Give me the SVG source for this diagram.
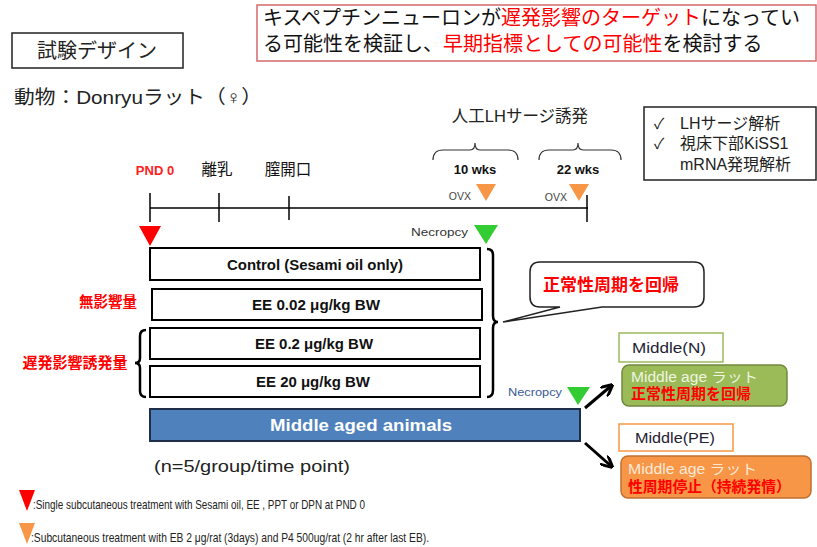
<svg xmlns="http://www.w3.org/2000/svg" width="817" height="547" viewBox="0 0 817 547">
<style>
.jp{font-family:"Liberation Sans","Noto Sans CJK JP",sans-serif;}
.cal{font-family:"Liberation Sans","Noto Sans CJK JP",sans-serif;}
.red{fill:#ff0000;}
.box{fill:#fff;stroke:#000;stroke-width:2;}
.ln{stroke:#000;stroke-width:1.5;fill:none;}
.brace{stroke:#000;stroke-width:2.5;fill:none;}
.thin{stroke:#333;stroke-width:1.2;fill:none;}
.grp{font-size:14px;font-weight:bold;fill:#111;text-anchor:middle;}
</style>
<defs>
<marker id="ah" viewBox="0 0 10 10" refX="8" refY="5" markerWidth="4" markerHeight="4" orient="auto">
<path d="M0,0 L10,5 L0,10" fill="none" stroke="#000" stroke-width="2.5"/>
</marker>
</defs>
<g id="title">
<rect x="12" y="33" width="171" height="35" fill="#fff" stroke="#222" stroke-width="1.5"/>
<text class="jp" x="97" y="58" font-size="20" text-anchor="middle" fill="#222">試験デザイン</text>
</g>
<g id="aim">
<rect x="257" y="5" width="559" height="56" fill="#fff" stroke="#d46a6a" stroke-width="1.5"/>
<text class="jp" x="263" y="25" font-size="20" fill="#111">キスペプチンニューロンが<tspan class="red">遅発影響のターゲット</tspan>になってい</text>
<text class="jp" x="263" y="51" font-size="20" fill="#111">る可能性を検証し、<tspan class="red">早期指標としての可能性</tspan>を検討する</text>
</g>
<text class="jp" x="14" y="104" font-size="19" fill="#222" textLength="248" lengthAdjust="spacingAndGlyphs">動物：Donryuラット（♀）</text>
<g id="lhsurge">
<text class="jp" x="520" y="122" font-size="16.5" text-anchor="middle" fill="#222">人工LHサージ誘発</text>
<path class="thin" d="M433,160 Q433,150 443,150 L470,150 Q475,150 475,143 Q475,150 480,150 L508,150 Q518,150 518,160"/>
<path class="thin" d="M539,160 Q539,150 549,150 L573,150 Q578,150 578,143 Q578,150 583,150 L611,150 Q621,150 621,160"/>
<text class="cal" x="475" y="174" font-size="13" font-weight="bold" text-anchor="middle" fill="#111">10 wks</text>
<text class="cal" x="578" y="174" font-size="13" font-weight="bold" text-anchor="middle" fill="#111">22 wks</text>
</g>
<g id="analysis">
<rect x="644" y="107" width="172" height="73" fill="#fff" stroke="#222" stroke-width="1.5"/>
<text class="jp" x="654" y="129" font-size="15" fill="#222">✓</text>
<text class="jp" x="680" y="129" font-size="16" fill="#222">LHサージ解析</text>
<text class="jp" x="654" y="149" font-size="15" fill="#222">✓</text>
<text class="jp" x="680" y="149" font-size="16" fill="#222">視床下部KiSS1</text>
<text class="jp" x="680" y="170" font-size="16" fill="#222">mRNA発現解析</text>
</g>
<g id="timeline">
<text class="cal" x="155" y="175" font-size="13" font-weight="bold" text-anchor="middle" fill="#ff2020">PND 0</text>
<text class="jp" x="217" y="175" font-size="15.5" text-anchor="middle" fill="#111">離乳</text>
<text class="jp" x="288" y="175" font-size="15.5" text-anchor="middle" fill="#111">膣開口</text>
<line class="ln" x1="150" y1="208" x2="588" y2="208"/>
<line class="ln" x1="150" y1="193" x2="150" y2="222"/>
<line class="ln" x1="219" y1="193" x2="219" y2="222"/>
<line class="ln" x1="289" y1="196" x2="289" y2="220"/>
<line class="ln" x1="587" y1="195" x2="587" y2="222"/>
<polygon points="476,184 496,184 486,201" fill="#f79646"/>
<text class="cal" x="471" y="200" font-size="10.5" text-anchor="end" fill="#444">OVX</text>
<polygon points="569,184 589,184 579,201" fill="#f79646"/>
<text class="cal" x="567" y="201" font-size="10.5" text-anchor="end" fill="#444">OVX</text>
<polygon points="139,226 161,226 150,246" fill="#ff0000"/>
<text class="cal" x="468" y="236" font-size="11" text-anchor="end" fill="#333" textLength="57" lengthAdjust="spacingAndGlyphs">Necropcy</text>
<polygon points="474,225 498,225 486,244" fill="#33cc33"/>
</g>
<g id="control"><rect class="box" x="150" y="248" width="330" height="32"/><text class="cal grp" x="315" y="270" textLength="176" lengthAdjust="spacingAndGlyphs">Control (Sesami oil only)</text></g>
<g id="ee002"><rect class="box" x="152" y="289" width="330" height="31"/><text class="cal grp" x="316" y="310" textLength="128" lengthAdjust="spacingAndGlyphs">EE 0.02 μg/kg BW</text></g>
<g id="ee02"><rect class="box" x="150" y="328" width="330" height="31"/><text class="cal grp" x="314" y="349" textLength="118" lengthAdjust="spacingAndGlyphs">EE 0.2 μg/kg BW</text></g>
<g id="ee20"><rect class="box" x="150" y="366" width="330" height="31"/><text class="cal grp" x="313" y="387" textLength="114" lengthAdjust="spacingAndGlyphs">EE 20 μg/kg BW</text></g>
<text class="jp red" x="108" y="307" font-size="14.5" font-weight="bold" text-anchor="middle">無影響量</text>
<text class="jp red" x="75" y="368" font-size="15" font-weight="bold" text-anchor="middle">遅発影響誘発量</text>
<path class="brace" d="M146,330 Q140,330 140,336 L140,358 Q140,363 135,363 Q140,363 140,368 L140,391 Q140,397 146,397"/>
<path class="brace" d="M487,249 Q493,249 493,255 L493,316 Q493,322 498,322 Q493,322 493,328 L493,390 Q493,397 487,397"/>
<g id="callout">
<path d="M540,262 L694,262 Q704,262 704,272 L704,297 Q704,307 694,307 L602,307 L503,322 L560,307 L540,307 Q530,307 530,297 L530,272 Q530,262 540,262 Z" fill="#fff" stroke="#222" stroke-width="1.5"/>
<text class="jp red" x="543" y="291" font-size="17" font-weight="bold">正常性周期を回帰</text>
</g>
<g id="middle">
<rect x="150" y="409" width="430" height="32" fill="#4f81bd" stroke="#1f2f4a" stroke-width="2"/>
<text class="cal" x="361" y="431" font-size="16" font-weight="bold" fill="#fff" text-anchor="middle" textLength="182" lengthAdjust="spacingAndGlyphs">Middle aged  animals</text>
<text class="cal" x="562" y="396" font-size="11" text-anchor="end" fill="#3a5a9a" textLength="54" lengthAdjust="spacingAndGlyphs">Necropcy</text>
<polygon points="567,387 590,387 578,405" fill="#33cc33"/>
</g>
<g id="connectors">
<line x1="585" y1="408" x2="611" y2="386" stroke="#000" stroke-width="3" marker-end="url(#ah)"/>
<line x1="585" y1="443" x2="611" y2="466" stroke="#000" stroke-width="3" marker-end="url(#ah)"/>
</g>
<g id="middleN">
<rect x="619" y="333" width="104" height="29" fill="#fff" stroke="#9bbb59" stroke-width="1.5"/>
<text class="cal" x="632" y="353" font-size="14" fill="#223" textLength="74" lengthAdjust="spacingAndGlyphs">Middle(N)</text>
</g>
<g id="middleNrat">
<rect x="622" y="365" width="165" height="41" rx="7" fill="#9bbb59" stroke="#71893f" stroke-width="1.5"/>
<text class="jp" x="631" y="382" font-size="14" fill="#eef5e0" textLength="127" lengthAdjust="spacingAndGlyphs">Middle age ラット</text>
<text class="jp red" x="631" y="399" font-size="15" font-weight="bold">正常性周期を回帰</text>
</g>
<g id="middlePE">
<rect x="619" y="424" width="114" height="27" fill="#fff" stroke="#f79646" stroke-width="1.5"/>
<text class="cal" x="635" y="443" font-size="14" fill="#223" textLength="80" lengthAdjust="spacingAndGlyphs">Middle(PE)</text>
</g>
<g id="middlePErat">
<rect x="621" y="456" width="190" height="42" rx="7" fill="#f79646" stroke="#c0702f" stroke-width="1.5"/>
<text class="jp" x="628" y="474" font-size="14" fill="#fde9d9" textLength="129" lengthAdjust="spacingAndGlyphs">Middle age ラット</text>
<text class="jp red" x="628" y="492" font-size="14.8" font-weight="bold">性周期停止（持続発情）</text>
</g>
<text class="cal" x="154" y="472" font-size="17" fill="#222" textLength="196" lengthAdjust="spacingAndGlyphs">(n=5/group/time point)</text>
<g id="legend">
<polygon points="19,490 35,490 27,511" fill="#ff0000"/>
<text class="cal" x="33" y="509" font-size="13" fill="#222" textLength="332" lengthAdjust="spacingAndGlyphs">:Single  subcutaneous treatment  with Sesami  oil, EE  , PPT or  DPN at PND 0</text>
<polygon points="19,523 35,523 27,544" fill="#f79646"/>
<text class="cal" x="31" y="542" font-size="13" fill="#222" textLength="398" lengthAdjust="spacingAndGlyphs">:Subcutaneous treatment  with EB 2 μg/rat  (3days) and P4 500ug/rat (2 hr after last EB).</text>
</g>
</svg>
